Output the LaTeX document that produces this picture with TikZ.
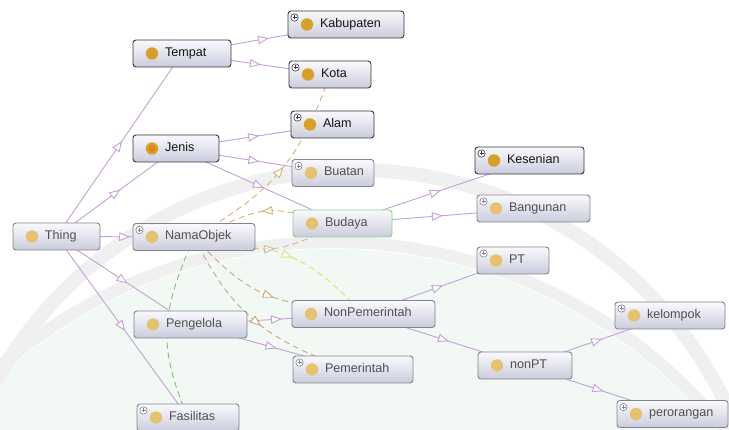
\documentclass[tikz,border=0pt]{standalone}
\usepackage{fontspec}
\setmainfont{Liberation Sans}
\usetikzlibrary{arrows.meta,decorations.markings}

\definecolor{isacol}{RGB}{196,160,214}
\definecolor{bordlight}{RGB}{128,132,142}
\definecolor{borddark}{RGB}{55,55,62}
\definecolor{dotlight}{RGB}{228,194,112}
\definecolor{dotdark}{RGB}{214,160,42}
\definecolor{jenisc}{RGB}{230,128,40}
\definecolor{txtlight}{RGB}{80,80,84}
\definecolor{txtdark}{RGB}{20,20,24}
\definecolor{filltop}{RGB}{250,250,253}
\definecolor{fillbot}{RGB}{202,204,220}
\definecolor{budgreen}{RGB}{140,212,140}
\definecolor{tanA}{RGB}{214,178,118}
\definecolor{tanB}{RGB}{200,170,120}
\definecolor{tanC}{RGB}{196,186,160}
\definecolor{yelA}{RGB}{226,222,110}
\definecolor{grnA}{RGB}{120,196,120}
\definecolor{wmgreen}{RGB}{242,248,243}
\definecolor{wmgrey}{RGB}{240,240,240}

\pgfdeclarelayer{wm}
\pgfdeclarelayer{edges}
\pgfsetlayers{wm,edges,main}

\newcommand\owdot[1]{\fill[#1] ([xshift=19pt]path picture bounding box.west) circle (6.2pt);}
\newcommand\owplus[1]{%
  \draw[#1, line width=0.6pt, fill=white] ([shift={(3pt,-3pt)}]path picture bounding box.north west) rectangle ++(7pt,-7pt);
  \draw[#1, line width=0.7pt] ([shift={(4.5pt,-6.5pt)}]path picture bounding box.north west) -- ++(4pt,0pt)
     ([shift={(6.5pt,-4.5pt)}]path picture bounding box.north west) -- ++(0pt,-4pt);}

\tikzset{
  cbox/.style={rectangle, rounded corners=3pt, line width=0.9pt, top color=filltop, bottom color=fillbot,
    minimum height=27pt, inner xsep=10pt, inner ysep=2pt, text height=9pt, text depth=3pt, align=left,
    font=\fontsize{12.6}{15}\selectfont},
  light/.style={cbox, draw=bordlight, text=txtlight, path picture={\owdot{dotlight}}},
  lightP/.style={cbox, draw=bordlight, text=txtlight, path picture={\owdot{dotlight}\owplus{bordlight}}},
  dark/.style={cbox, draw=borddark, text=txtdark, path picture={\owdot{dotdark}}},
  darkJ/.style={cbox, draw=borddark, text=txtdark, path picture={\owdot{dotdark}\fill[jenisc] ([xshift=19pt]path picture bounding box.west) circle (3.6pt);}},
  darkP/.style={cbox, draw=borddark, text=txtdark, path picture={\owdot{dotdark}\owplus{borddark}}},
  greenb/.style={cbox, draw=budgreen, text=txtlight, path picture={\owdot{dotlight}}},
  midtri/.style={postaction={decorate}, decoration={markings, mark=at position 0.5 with {\arrow[xshift=5pt]{Triangle[length=11pt, width=8.5pt, fill=white, line width=0.9pt]}}}},
  isa/.style={draw=isacol, line width=0.9pt, midtri},
  rel/.style={line width=0.9pt, dash pattern=on 6pt off 4pt, midtri},
}

\newcommand\onode[6]{\pgfmathsetmacro\owtw{#5-20}%
  \node[#1, minimum width=#5pt, text width=\owtw pt] (#2) at (#3,-#4) {\noindent\hspace*{22pt}#6};}

\begin{document}
\begin{tikzpicture}[x=1pt,y=1pt]
\useasboundingbox (0,0) rectangle (729,-430);

\begin{pgfonlayer}{wm}
  \fill[white] (0,0) rectangle (729,-430);
  \begin{scope}
    \clip (0,0) rectangle (729,-430);
    \fill[wmgreen] (332,-746) circle (497);
    \draw[wmgrey, line width=14pt] (355,-581) circle (411);
    \draw[wmgrey, line width=12pt] (332,-746) circle (504);
  \end{scope}
\end{pgfonlayer}

% nodes
\onode{light}{Thing}{56.5}{236.5}{87}{Thing}
\onode{dark}{Tempat}{182}{53.5}{98}{Tempat}
\onode{darkJ}{Jenis}{176}{148.5}{86}{Jenis}
\onode{lightP}{NamaObjek}{194}{237}{122}{NamaObjek}
\onode{light}{Pengelola}{190.5}{324.5}{113}{Pengelola}
\onode{lightP}{Fasilitas}{188}{417.5}{102}{Fasilitas}
\onode{darkP}{Kabupaten}{346}{24.5}{116}{Kabupaten}
\onode{darkP}{Kota}{330}{74.5}{82}{Kota}
\onode{darkP}{Alam}{332.5}{124.5}{83}{Alam}
\onode{lightP}{Buatan}{333}{173}{82}{Buatan}
\onode{greenb}{Budaya}{342.5}{223.5}{99}{Budaya}
\onode{darkP}{Kesenian}{529.5}{160.5}{109}{Kesenian}
\onode{lightP}{Bangunan}{533.5}{208.5}{113}{Bangunan}
\onode{lightP}{PT}{513}{260.5}{72}{PT}
\onode{light}{NonPemerintah}{363.5}{314}{143}{NonPemerintah}
\onode{lightP}{Pemerintah}{353}{369.5}{120}{Pemerintah}
\onode{light}{nonPT}{525}{365.5}{94}{nonPT}
\onode{lightP}{kelompok}{670}{315.5}{110}{kelompok}
\onode{lightP}{perorangan}{672.5}{414}{111}{perorangan}

\begin{pgfonlayer}{edges}
  % subclass edges (centre to centre, hidden under the boxes)
  \draw[isa] (Thing.center) -- (Tempat.center);
  \draw[isa] (Thing.center) -- (Jenis.center);
  \draw[isa] (Thing.center) -- (NamaObjek.center);
  \draw[isa] (Thing.center) -- (Pengelola.center);
  \draw[isa] (Thing.center) -- (Fasilitas.center);
  \draw[isa] (Tempat.center) -- (Kabupaten.center);
  \draw[isa] (Tempat.center) -- (Kota.center);
  \draw[isa] (Jenis.center) -- (Alam.center);
  \draw[isa] (Jenis.center) -- (Buatan.center);
  \draw[isa] (Jenis.center) -- (Budaya.center);
  \draw[isa] (Budaya.center) -- (Kesenian.center);
  \draw[isa] (Budaya.center) -- (Bangunan.center);
  \draw[isa] (Pengelola.center) -- (NonPemerintah.center);
  \draw[isa] (Pengelola.center) -- (Pemerintah.center);
  \draw[isa] (NonPemerintah.center) -- (PT.center);
  \draw[isa] (NonPemerintah.center) -- (nonPT.center);
  \draw[isa] (nonPT.center) -- (kelompok.center);
  \draw[isa] (nonPT.center) -- (perorangan.center);
  % object property edges
  \draw[rel, draw=tanA] (NamaObjek.center) .. controls +(80.8,46.6) and +(-30.1,-84.6) .. (Kota.center);
  \draw[rel, draw=tanA] (Budaya.center) .. controls +(-85.8,19.5) and +(77.2,31.8) .. (NamaObjek.center);
  \draw[rel, draw=tanC] (NamaObjek.center) .. controls +(77.1,-14.7) and +(-77.1,-35.3) .. (Budaya.center);
  \draw[rel, draw=yelA] (NamaObjek.center) .. controls +(91.2,-11.4) and +(-58.5,60.7) .. (NonPemerintah.center);
  \draw[rel, draw=tanB] (NamaObjek.center) .. controls +(60.5,-65.2) and +(-91.8,13.2) .. (NonPemerintah.center);
  \draw[rel, draw=tanB] (NamaObjek.center) .. controls +(36.7,-74.3) and +(-86,27) .. (Pemerintah.center);
  \draw[rel, draw=grnA] (NamaObjek.center) .. controls +(-32,-75) and +(-32,75) .. (Fasilitas.center);
\end{pgfonlayer}
\end{tikzpicture}
\end{document}
